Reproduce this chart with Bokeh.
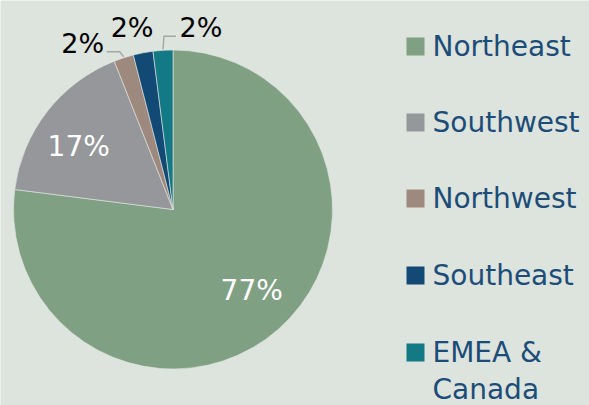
import numpy as np
from bokeh.plotting import figure
from bokeh.models import Range1d
from bokeh.core.properties import value
from bokeh.embed import file_html
from bokeh.resources import INLINE

# ---- data ----
regions = ["Northeast", "Southwest", "Northwest", "Southeast", "EMEA &\nCanada"]
shares = [77, 17, 2, 2, 2]
pct_labels = ["77%", "17%", "2%", "2%", "2%"]
colors = ["#80a083", "#96979b", "#9d897d", "#124a75", "#137985"]

BG = "#dde3dd"
FONT = "DejaVu Sans"
W, H = 589, 405

p = figure(width=W, height=H, x_range=Range1d(0, W), y_range=Range1d(0, H),
           output_backend="svg", toolbar_location=None, min_border=0)
p.axis.visible = False
p.grid.visible = False
p.outline_line_color = None
p.background_fill_color = BG
p.border_fill_color = BG

# page y -> data y
def Y(v):
    return H - v

cx, cy, R = 172.5, Y(209), 159.5
frac = np.array(shares, dtype=float) / sum(shares)
cum = np.concatenate([[0.0], np.cumsum(frac)])
start = np.pi / 2 - 2 * np.pi * cum[:-1]
end = np.pi / 2 - 2 * np.pi * cum[1:]
mid = (start + end) / 2

p.wedge(x=cx, y=cy, radius=R, start_angle=start, end_angle=end, direction="clock",
        fill_color=colors, line_color="#e4e8e3", line_width=0.6)

# inside labels (large slices)
r_in = 113
in_x = cx + r_in * np.cos(mid[:2]) + np.array([4, -5])
in_y = cy + r_in * np.sin(mid[:2]) + np.array([4, -6])
p.text(x=list(in_x), y=list(in_y),
       text=pct_labels[:2], text_color="white", text_font=value(FONT),
       text_font_size="28px", text_align="center", text_baseline="middle")

# outside labels (small slices)
ex = cx + R * np.cos(mid[2:])
ey = cy + R * np.sin(mid[2:])
offs = [(-41, 14), (-11, 25), (38, 23)]
lx = [ex[i] + offs[i][0] for i in range(3)]
ly = [ey[i] + offs[i][1] for i in range(3)]
p.text(x=lx, y=ly, text=pct_labels[2:], text_color="black", text_font=value(FONT),
       text_font_size="27px", text_align="center", text_baseline="middle")
# leader lines
p.line(x=[ex[0], ex[0] - 4, ex[0] - 17], y=[ey[0] + 1, ey[0] + 6, ey[0] + 6],
       line_color="#a6a6a6", line_width=1.5)
p.line(x=[ex[2], ex[2] + 1, ex[2] + 13], y=[ey[2] + 1, ey[2] + 14, ey[2] + 14],
       line_color="#a6a6a6", line_width=1.5)

# legend
row_y = [Y(v) for v in [46, 122, 198, 275, 352]]
p.rect(x=[415] * 5, y=row_y, width=18, height=18, fill_color=colors, line_color=None)
for i, lab in enumerate(regions):
    lines = lab.split("\n")
    for j, ln in enumerate(lines):
        p.text(x=[432], y=[row_y[i] - 37 * j], text=[ln], text_color="#1b4d78",
               text_font=value(FONT), text_font_size="28px", text_align="left",
               text_baseline="middle")

html = file_html(p, INLINE)
open("out.html", "w").write(html)
